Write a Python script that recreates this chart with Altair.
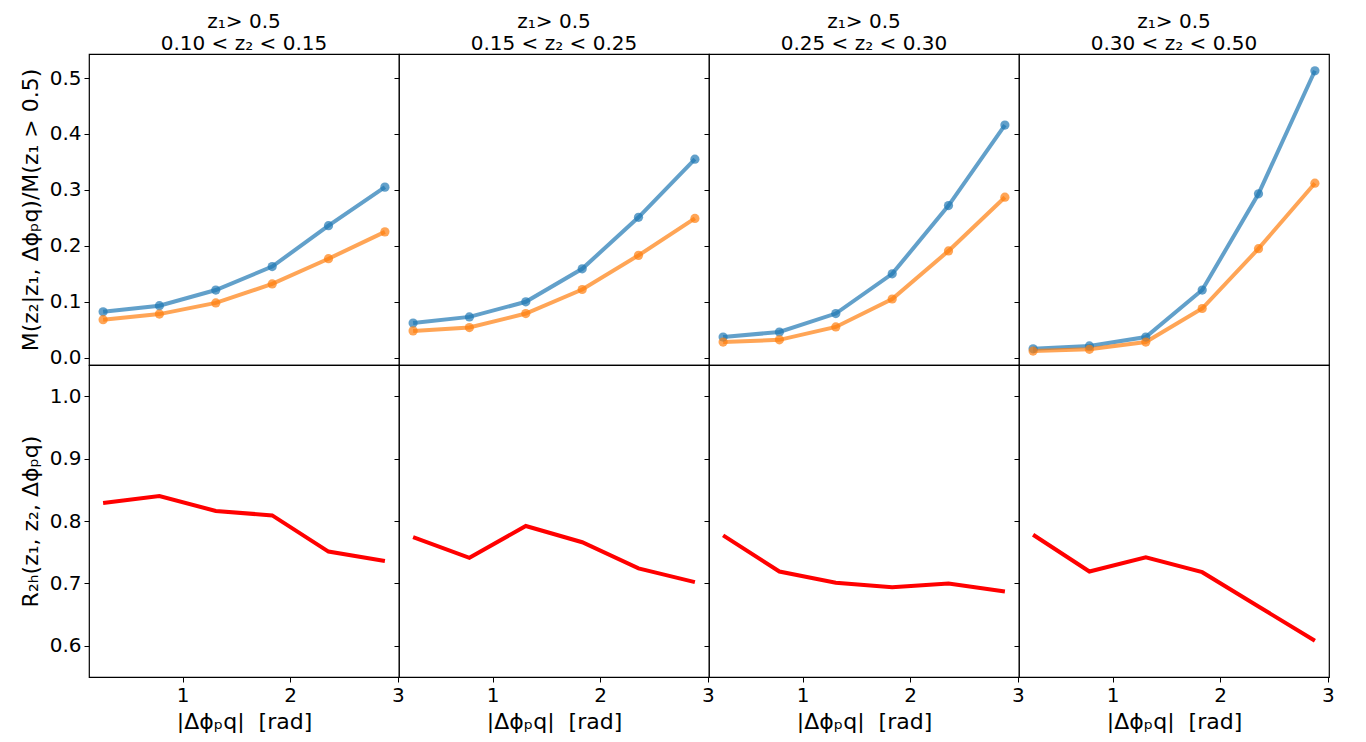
import altair as alt
import pandas as pd

phi = [0.262, 0.785, 1.309, 1.833, 2.356, 2.880]
z2_bins = ["0.10 < z₂ < 0.15", "0.15 < z₂ < 0.25", "0.25 < z₂ < 0.30", "0.30 < z₂ < 0.50"]

blue = [
    [0.082, 0.093, 0.121, 0.163, 0.236, 0.305],
    [0.062, 0.073, 0.100, 0.159, 0.251, 0.355],
    [0.037, 0.046, 0.079, 0.150, 0.272, 0.416],
    [0.016, 0.021, 0.037, 0.121, 0.293, 0.513],
]
orange = [
    [0.068, 0.078, 0.098, 0.132, 0.177, 0.225],
    [0.048, 0.054, 0.079, 0.122, 0.183, 0.249],
    [0.028, 0.032, 0.055, 0.105, 0.191, 0.287],
    [0.012, 0.015, 0.028, 0.088, 0.195, 0.312],
]
ratio = [
    [0.829, 0.840, 0.816, 0.809, 0.751, 0.736],
    [0.774, 0.741, 0.792, 0.766, 0.724, 0.702],
    [0.777, 0.719, 0.701, 0.694, 0.700, 0.687],
    [0.778, 0.719, 0.742, 0.718, 0.663, 0.608],
]

x_ticks = [1, 2, 3]
top_ticks = [0.0, 0.1, 0.2, 0.3, 0.4, 0.5]
bot_ticks = [0.6, 0.7, 0.8, 0.9, 1.0]

FONT = "DejaVu Sans"
W, H_TOP, H_BOT = 310, 311, 312
x_dom = [0.131, 3.011]

x_title = "|Δϕₚq|\u00a0\u00a0[rad]"
y_top_title = "M(z₂|z₁, Δϕₚq)/M(z₁ > 0.5)"
y_bot_title = "R₂ₕ(z₁, z₂, Δϕₚq)"

top_charts = []
bot_charts = []
for i in range(4):
    rows = []
    for j, x in enumerate(phi):
        rows.append({"phi": x, "val": blue[i][j], "series": "a"})
        rows.append({"phi": x, "val": orange[i][j], "series": "b"})
    df_top = pd.DataFrame(rows)
    df_bot = pd.DataFrame({"phi": phi, "val": ratio[i]})

    first = i == 0
    ya_top = alt.Axis(
        values=top_ticks, format=".1f", labels=first, title=y_top_title if first else None,
        grid=False, domain=False, tickSize=5, tickColor="black", labelColor="black",
        labelFontSize=20, labelFont=FONT, titleFont=FONT, titleFontSize=22,
        titleFontWeight="normal", titleColor="black", labelPadding=3, titlePadding=7,
    )
    enc_x = alt.X("phi:Q", scale=alt.Scale(domain=x_dom, nice=False, zero=False), axis=None)
    enc_y = alt.Y("val:Q", scale=alt.Scale(domain=[-0.013, 0.543], nice=False, zero=False), axis=ya_top)
    color = alt.Color("series:N", scale=alt.Scale(domain=["a", "b"], range=["#1f77b4", "#ff7f0e"]), legend=None)
    base = alt.Chart(df_top).encode(x=enc_x, y=enc_y, color=color)
    lines = base.mark_line(strokeWidth=4, opacity=0.7)
    pts = base.mark_circle(size=85, opacity=0.7)
    top = alt.layer(lines, pts).properties(
        width=W, height=H_TOP,
        title=alt.TitleParams(
            text=["z₁> 0.5", z2_bins[i]], fontSize=20, font=FONT, fontWeight="normal",
            color="black", offset=0, lineHeight=22, anchor="middle",
        ),
    )
    top_charts.append(top)

    xa_bot = alt.Axis(
        values=x_ticks, format="d", title=x_title, grid=False, domain=False,
        tickSize=5, tickColor="black", labelColor="black", labelFontSize=20, labelFont=FONT,
        titleFont=FONT, titleFontSize=22, titleFontWeight="normal", titleColor="black",
        labelPadding=3, titlePadding=6, labelFlush=False,
    )
    ya_bot = alt.Axis(
        values=bot_ticks, format=".1f", labels=first, title=y_bot_title if first else None,
        grid=False, domain=False, tickSize=5, tickColor="black", labelColor="black",
        labelFontSize=20, labelFont=FONT, titleFont=FONT, titleFontSize=22,
        titleFontWeight="normal", titleColor="black", labelPadding=3, titlePadding=7,
    )
    bot = alt.Chart(df_bot).mark_line(strokeWidth=4, color="#ff0000").encode(
        x=alt.X("phi:Q", scale=alt.Scale(domain=x_dom, nice=False, zero=False), axis=xa_bot),
        y=alt.Y("val:Q", scale=alt.Scale(domain=[0.55, 1.05], nice=False, zero=False), axis=ya_bot),
    ).properties(width=W, height=H_BOT)
    bot_charts.append(bot)

chart = alt.concat(
    *top_charts, *bot_charts, columns=4, spacing=0, bounds="flush",
).properties(
    padding={"left": 10, "top": 3, "right": 5, "bottom": 0},
    background="white",
).configure_view(
    stroke="black", strokeWidth=1.2, fill="white"
)

chart.save("out.html", embed_options={"renderer": "svg", "actions": False})
